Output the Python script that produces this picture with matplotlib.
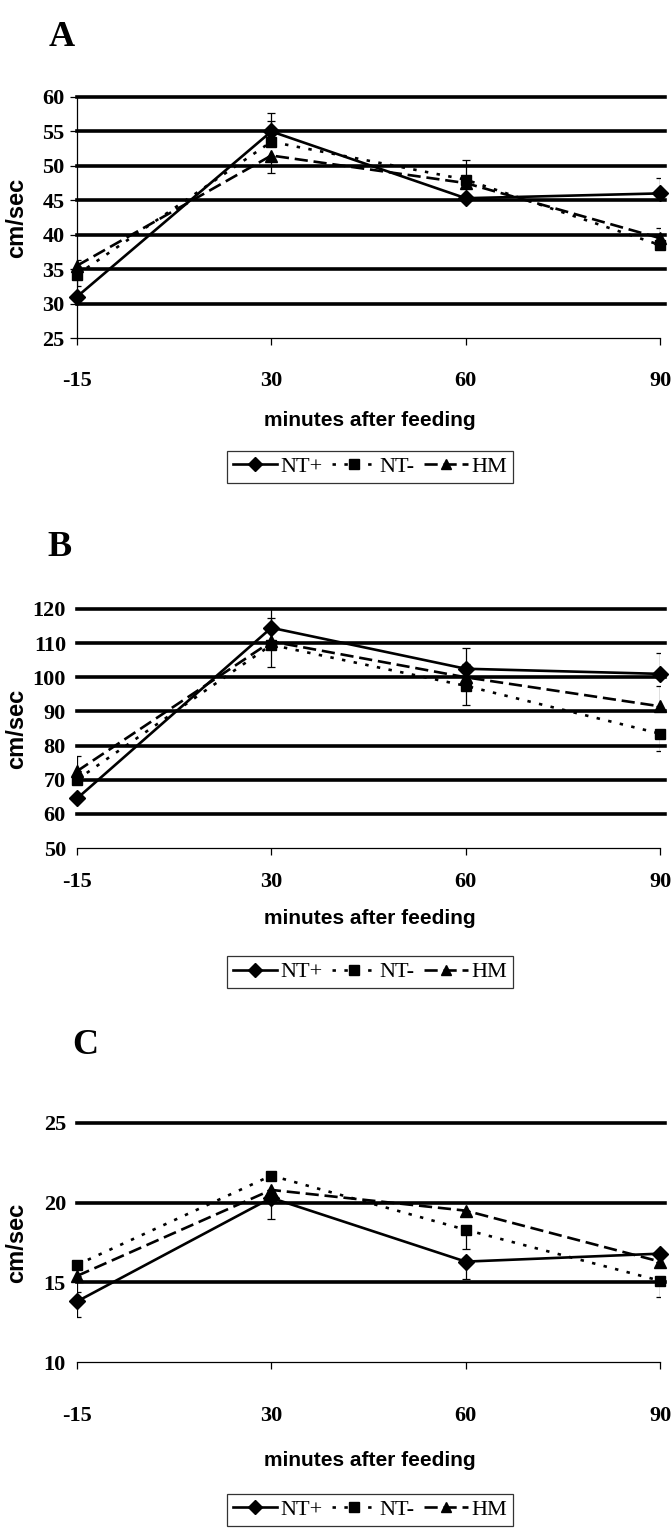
import matplotlib
matplotlib.use("Agg")
import matplotlib.pyplot as plt
from matplotlib.lines import Line2D

# ---------------- data ----------------
minutes = ["-15", "30", "60", "90"]
series_names = ["NT+", "NT-", "HM"]

# Panel A
A_ntp = [31.0, 55.0, 45.3, 46.0]
A_ntm = [34.2, 53.5, 48.0, 38.5]
A_hm = [35.5, 51.5, 47.5, 39.5]
A_ntp_lo = [0.0, 0.0, 0.0, 0.0]
A_ntp_hi = [0.0, 2.7, 0.0, 2.2]
A_ntm_lo = [1.7, 0.0, 0.0, 0.0]
A_ntm_hi = [0.0, 3.0, 2.8, 0.0]
A_hm_lo = [0.0, 2.5, 0.0, 0.0]
A_hm_hi = [0.8, 0.0, 0.0, 1.5]

# Panel B
B_ntp = [64.5, 114.5, 102.5, 101.0]
B_ntm = [70.0, 109.5, 97.5, 83.5]
B_hm = [72.5, 110.5, 100.0, 91.5]
B_ntp_lo = [0.0, 0.0, 0.0, 0.0]
B_ntp_hi = [0.0, 6.5, 6.0, 6.0]
B_ntm_lo = [0.0, 6.5, 5.5, 5.0]
B_ntm_hi = [7.0, 0.0, 0.0, 0.0]
B_hm_lo = [0.0, 0.0, 0.0, 0.0]
B_hm_hi = [0.0, 7.0, 4.0, 6.0]

# Panel C
C_ntp = [13.8, 20.3, 16.3, 16.8]
C_ntm = [16.1, 21.7, 18.3, 15.1]
C_hm = [15.4, 20.8, 19.5, 16.3]
C_ntp_lo = [1.0, 1.3, 1.1, 0.0]
C_ntp_hi = [0.0, 0.0, 0.0, 0.0]
C_ntm_lo = [0.0, 0.0, 1.2, 1.0]
C_ntm_hi = [0.0, 0.0, 0.0, 0.0]
C_hm_lo = [1.0, 0.0, 0.0, 0.0]
C_hm_hi = [0.0, 0.0, 0.0, 0.0]

A_yticks = [25, 30, 35, 40, 45, 50, 55, 60]
B_yticks = [50, 60, 70, 80, 90, 100, 110, 120]
C_yticks = [10, 15, 20, 25]

# ---------------- style ----------------
W, H = 672, 1528
fig = plt.figure(figsize=(W / 100, H / 100), dpi=100)

SERIF = "Liberation Serif"
SANS = "Liberation Sans"

styles = [
    dict(ls="-", marker="D", ms=8),
    dict(ls=(0, (1.3, 3.2)), marker="s", ms=7.5),
    dict(ls=(0, (5, 2.2)), marker="^", ms=8),
]


def px_axes(top, bottom, left=77, right=660):
    return [left / W, 1 - bottom / H, (right - left) / W, (bottom - top) / H]


def panel(rect, letter, letter_xy, ys, los, his, yticks, xpad, xlabel_y, legend_y,
          left_spine):
    ax = fig.add_axes(rect)
    x = list(range(len(minutes)))
    ax.set_xlim(0, len(minutes) - 1)
    ax.set_ylim(yticks[0], yticks[-1])
    for yv in yticks[1:]:
        ax.axhline(yv, color="black", lw=2.6, zorder=1, xmax=1.008, clip_on=False)
    handles = []
    for vals, lo, hi, st, name in zip(ys, los, his, styles, series_names):
        ax.errorbar(x, vals, yerr=[lo, hi], fmt="none", ecolor="black",
                    elinewidth=0.9, capsize=3, capthick=0.9, zorder=2)
        ax.plot(x, vals, color="black", lw=1.9, linestyle=st["ls"],
                marker=st["marker"], ms=st["ms"], mfc="black", mec="black",
                zorder=3, clip_on=False)
        handles.append(Line2D([], [], color="black", lw=1.9, linestyle=st["ls"],
                              marker=st["marker"], ms=st["ms"] - 1, mfc="black",
                              mec="black"))
    for s in ["top", "right"]:
        ax.spines[s].set_visible(False)
    ax.spines["bottom"].set_linewidth(0.9)
    ax.spines["left"].set_visible(left_spine)
    ax.spines["left"].set_linewidth(0.9)
    ax.set_xticks(x)
    ax.set_xticklabels(minutes, fontfamily=SERIF, fontweight="bold", fontsize=16)
    ax.set_yticks(yticks)
    ax.set_yticklabels([str(v) for v in yticks], fontfamily=SERIF,
                       fontweight="bold", fontsize=16)
    ax.tick_params(axis="x", direction="out", length=5, width=0.9, pad=xpad)
    ax.tick_params(axis="y", direction="out", length=5 if left_spine else 0,
                   width=0.9, pad=4 if left_spine else 8)
    cy = rect[1] + rect[3] / 2
    fig.text(0.024, cy, "cm/sec", rotation=90, ha="center", va="center",
             fontfamily=SANS, fontweight="bold", fontsize=17)
    fig.text(370 / W, 1 - xlabel_y / H, "minutes after feeding", ha="center",
             va="center", fontfamily=SANS, fontweight="bold", fontsize=15)
    fig.text(letter_xy[0] / W, 1 - letter_xy[1] / H, letter, ha="center",
             va="center", fontfamily=SERIF, fontweight="bold", fontsize=26)
    leg = fig.legend(handles, series_names, loc="center",
                     bbox_to_anchor=(370 / W, 1 - legend_y / H), ncol=3,
                     frameon=True, fancybox=False, edgecolor="black",
                     handlelength=2.0, handletextpad=0.15, columnspacing=0.4,
                     borderpad=0.25, borderaxespad=0,
                     prop=dict(family=SERIF, size=16))
    leg.get_frame().set_linewidth(0.9)
    return ax


panel(px_axes(97, 338), "A", (62, 37),
      [A_ntp, A_ntm, A_hm], [A_ntp_lo, A_ntm_lo, A_hm_lo],
      [A_ntp_hi, A_ntm_hi, A_hm_hi], A_yticks, xpad=19, xlabel_y=420,
      legend_y=467, left_spine=True)

panel(px_axes(609, 848), "B", (60, 548),
      [B_ntp, B_ntm, B_hm], [B_ntp_lo, B_ntm_lo, B_hm_lo],
      [B_ntp_hi, B_ntm_hi, B_hm_hi], B_yticks, xpad=12, xlabel_y=918,
      legend_y=972, left_spine=False)

panel(px_axes(1123, 1362), "C", (85, 1046),
      [C_ntp, C_ntm, C_hm], [C_ntp_lo, C_ntm_lo, C_hm_lo],
      [C_ntp_hi, C_ntm_hi, C_hm_hi], C_yticks, xpad=27, xlabel_y=1460,
      legend_y=1510, left_spine=False)

fig.savefig("out.png", dpi=100)
